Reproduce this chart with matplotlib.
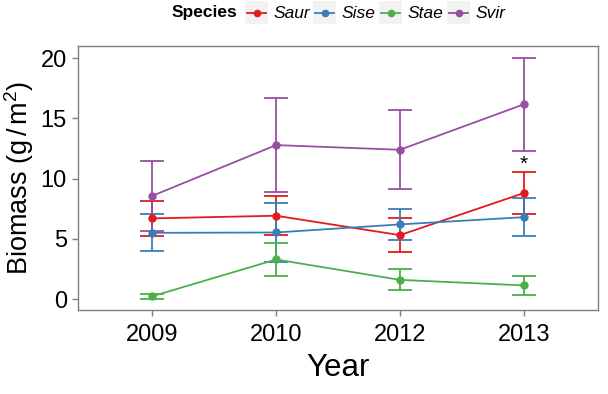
import matplotlib
matplotlib.use("Agg")
import matplotlib.pyplot as plt
from matplotlib.patches import Rectangle
from matplotlib.lines import Line2D

plt.rcParams['font.family'] = ['Liberation Sans', 'DejaVu Sans']
plt.rcParams['mathtext.fontset'] = 'custom'
plt.rcParams['mathtext.rm'] = 'Liberation Sans'
plt.rcParams['mathtext.it'] = 'Liberation Sans:italic'

# ----------------- data -----------------
years = ['2009', '2010', '2012', '2013']
species = ['Saur', 'Sise', 'Stae', 'Svir']
colors = ['#E41A1C', '#377EB8', '#4DAF4A', '#984EA3']

saur_mean = [6.70, 6.92, 5.31, 8.80]
saur_err = [1.43, 1.60, 1.39, 1.72]
sise_mean = [5.50, 5.53, 6.20, 6.80]
sise_err = [1.53, 2.47, 1.29, 1.55]
stae_mean = [0.24, 3.29, 1.60, 1.14]
stae_err = [0.21, 1.37, 0.88, 0.78]
svir_mean = [8.57, 12.78, 12.39, 16.16]
svir_err = [2.93, 3.90, 3.27, 3.88]

means = [saur_mean, sise_mean, stae_mean, svir_mean]
errs = [saur_err, sise_err, stae_err, svir_err]

star_year = 4
star_y = 11.2

# ----------------- figure -----------------
W, H = 608, 394
fig = plt.figure(figsize=(W / 100, H / 100), dpi=100)
ax = fig.add_axes([78 / W, (H - 310) / H, 520 / W, 264 / H])

x = [1, 2, 3, 4]
for m, e, c in zip(means, errs, colors):
    ax.errorbar(x, m, yerr=e, color=c, lw=1.3, marker='o', markersize=5,
                capsize=8.6, capthick=1.3, elinewidth=1.3)

ax.text(star_year, star_y, '*', ha='center', va='center', fontsize=15)

ax.set_xlim(0.4, 4.6)
ax.set_ylim(-0.9, 21.0)
ax.set_xticks(x)
ax.set_xticklabels(years)
ax.set_yticks([0, 5, 10, 15, 20])
ax.tick_params(colors='#7F7F7F', labelcolor='black', labelsize=17,
               length=4, width=1, pad=4)
ax.tick_params(axis='x', pad=6)
for s in ax.spines.values():
    s.set_color('#7F7F7F')
    s.set_linewidth(1)

ax.set_xlabel('Year', fontsize=22.5, labelpad=5)
ax.set_ylabel('Biomass (g$\\,$/$\\,$m$^{2}$)', fontsize=19.5, labelpad=3)

# ----------------- legend (top, horizontal) -----------------
def fx(px):
    return px / W

def fy(py):
    return 1 - py / H

fig.text(fx(172), fy(13), 'Species', fontsize=12.5, fontweight='bold',
         ha='left', va='center')
key_left = [245, 313, 379, 447]
for kx, sp, c in zip(key_left, species, colors):
    fig.patches.append(Rectangle((fx(kx), fy(24)), 23 / W, 23 / H,
                                 transform=fig.transFigure,
                                 facecolor='#F2F2F2', edgecolor='none'))
    fig.lines.append(Line2D([fx(kx + 2), fx(kx + 21)], [fy(12.5), fy(12.5)],
                            transform=fig.transFigure, color=c, lw=1.3,
                            marker=None))
    fig.lines.append(Line2D([fx(kx + 11.5)], [fy(12.5)],
                            transform=fig.transFigure, color=c,
                            marker='o', markersize=4.5))
    fig.text(fx(kx + 28), fy(13), sp, fontsize=12.5, style='italic',
             ha='left', va='center')

fig.savefig('out.png', dpi=100)
